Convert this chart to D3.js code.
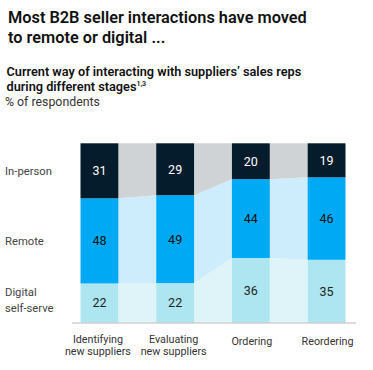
<!DOCTYPE html>
<html>
<head>
<meta charset="utf-8">
<script src="https://cdn.jsdelivr.net/npm/d3@7"></script>
<style>
  html, body { margin: 0; padding: 0; background: #fff; }
  svg { display: block; }
</style>
</head>
<body>
<svg id="chart" width="373" height="370"></svg>
<script>
// ---- Data ----
const stages = ["Identifying new suppliers", "Evaluating new suppliers", "Ordering", "Reordering"];
const stageLines = [["Identifying", "new suppliers"], ["Evaluating", "new suppliers"], ["Ordering"], ["Reordering"]];
const channels = ["Digital self-serve", "Remote", "In-person"]; // bottom to top
const channelLines = [["Digital", "self-serve"], ["Remote"], ["In-person"]];
const inPerson = [31, 29, 20, 19];
const remote = [48, 49, 44, 46];
const digital = [22, 22, 36, 35];

const barColors = { "In-person": "#051c2c", "Remote": "#00a9f4", "Digital self-serve": "#ade6f1" };
const linkColors = { "In-person": "#d0d3d5", "Remote": "#cdedfc", "Digital self-serve": "#dff4f8" };
const labelColors = { "In-person": "#ffffff", "Remote": "#111111", "Digital self-serve": "#222222" };

const FONT = "Roboto, 'Noto Sans', sans-serif";

const rows = stages.map((s, i) => ({
  stage: s,
  "In-person": inPerson[i],
  "Remote": remote[i],
  "Digital self-serve": digital[i]
}));

const svg = d3.select("#chart");

// size a text element so its rendered width matches a target width
function fitFont(sel, target) {
  const node = sel.node();
  const base = parseFloat(sel.attr("font-size"));
  const w = node.getComputedTextLength();
  return base * target / w;
}

// ---- Titles ----
const title = svg.append("text")
  .attr("font-family", FONT).attr("font-weight", 600).attr("font-size", 16).attr("fill", "#111");
title.append("tspan").attr("x", 8).attr("y", 22.7).text("Most B2B seller interactions have moved");
title.append("tspan").attr("x", 8).attr("y", 43.3).text("to remote or digital ...");
{
  const probe = svg.append("text").attr("font-family", FONT).attr("font-weight", 600).attr("font-size", 16)
    .text("Most B2B seller interactions have moved");
  title.attr("font-size", fitFont(probe, 299));
  probe.remove();
}

const sub = svg.append("text")
  .attr("font-family", FONT).attr("font-weight", 600).attr("font-size", 12).attr("fill", "#111");
sub.append("tspan").attr("x", 6.5).attr("y", 75.7).text("Current way of interacting with suppliers\u2019 sales reps");
const l2 = sub.append("tspan").attr("x", 6.5).attr("y", 91);
l2.append("tspan").text("during different stages");
l2.append("tspan").attr("font-size", 7).attr("dy", -5).text("1,3");
{
  const probe = svg.append("text").attr("font-family", FONT).attr("font-weight", 600).attr("font-size", 12)
    .text("Current way of interacting with suppliers\u2019 sales reps");
  sub.attr("font-size", fitFont(probe, 295));
  probe.remove();
}

const pct = svg.append("text")
  .attr("x", 5).attr("y", 105.7)
  .attr("font-family", FONT).attr("font-size", 12).attr("fill", "#333")
  .text("% of respondents");
pct.attr("font-size", fitFont(pct, 95));

// ---- Scales ----
const x = d3.scaleBand().domain(stages).range([80.5, 345.5]).paddingInner(0.5).paddingOuter(0);
const y = d3.scaleLinear().domain([0, 1]).range([322.5, 143.3]);

const stack = d3.stack().keys(channels).offset(d3.stackOffsetExpand);
const series = stack(rows);

// ---- Connectors ----
const gLinks = svg.append("g");
series.forEach(s => {
  for (let i = 0; i < s.length - 1; i++) {
    const a = s[i], b = s[i + 1];
    const x0 = x(stages[i]) + x.bandwidth();
    const x1 = x(stages[i + 1]);
    const pts = [[x0, y(a[1])], [x1, y(b[1])], [x1, y(b[0])], [x0, y(a[0])]];
    gLinks.append("path")
      .attr("d", "M" + pts.map(p => p.join(",")).join("L") + "Z")
      .attr("fill", linkColors[s.key]);
  }
});

// ---- Bars ----
const gBars = svg.append("g");
series.forEach(s => {
  gBars.selectAll(null).data(s).enter().append("rect")
    .attr("x", d => x(d.data.stage))
    .attr("width", x.bandwidth())
    .attr("y", d => y(d[1]))
    .attr("height", d => y(d[0]) - y(d[1]))
    .attr("fill", barColors[s.key]);
  gBars.selectAll(null).data(s).enter().append("text")
    .attr("x", d => x(d.data.stage) + x.bandwidth() / 2)
    .attr("y", d => (y(d[0]) + y(d[1])) / 2)
    .attr("dy", "0.36em")
    .attr("text-anchor", "middle")
    .attr("font-family", FONT)
    .attr("font-size", 12.5)
    .attr("fill", labelColors[s.key])
    .text(d => d.data[s.key]);
});

// ---- Baseline axis ----
svg.append("line")
  .attr("x1", 72).attr("x2", 356)
  .attr("y1", y(0) + 0.5).attr("y2", y(0) + 0.5)
  .attr("stroke", "#b8b8b8").attr("stroke-width", 1);

// ---- Category labels ----
let catSize;
{
  const probe = svg.append("text").attr("font-family", FONT).attr("font-size", 11).text("new suppliers");
  catSize = fitFont(probe, 66);
  probe.remove();
}
const gCat = svg.append("g")
  .attr("font-family", FONT)
  .attr("font-size", catSize)
  .attr("fill", "#333")
  .attr("text-anchor", "middle");
stages.forEach((s, i) => {
  const lines = stageLines[i];
  const cx = x(s) + x.bandwidth() / 2;
  const t = gCat.append("text");
  if (lines.length === 1) {
    t.append("tspan").attr("x", cx + 1).attr("y", 345).text(lines[0]);
  } else {
    lines.forEach((ln, j) => t.append("tspan").attr("x", cx - 1.5).attr("y", 342.7 + j * 12.3).text(ln));
  }
});

// ---- Row labels (positioned at first bar's segment centers) ----
let rowSize;
{
  const probe = svg.append("text").attr("font-family", FONT).attr("font-size", 11).text("In-person");
  rowSize = fitFont(probe, 47);
  probe.remove();
}
const gRow = svg.append("g")
  .attr("font-family", FONT)
  .attr("font-size", rowSize)
  .attr("fill", "#444");
series.forEach((s, k) => {
  const d = s[0];
  const cy = (y(d[0]) + y(d[1])) / 2;
  const lines = channelLines[k];
  const t = gRow.append("text");
  lines.forEach((ln, j) => {
    t.append("tspan").attr("x", 5)
      .attr("y", k === 0 ? 292.3 + j * 15.4 : cy)
      .attr("dy", "0.36em")
      .text(ln);
  });
});
</script>
</body>
</html>
